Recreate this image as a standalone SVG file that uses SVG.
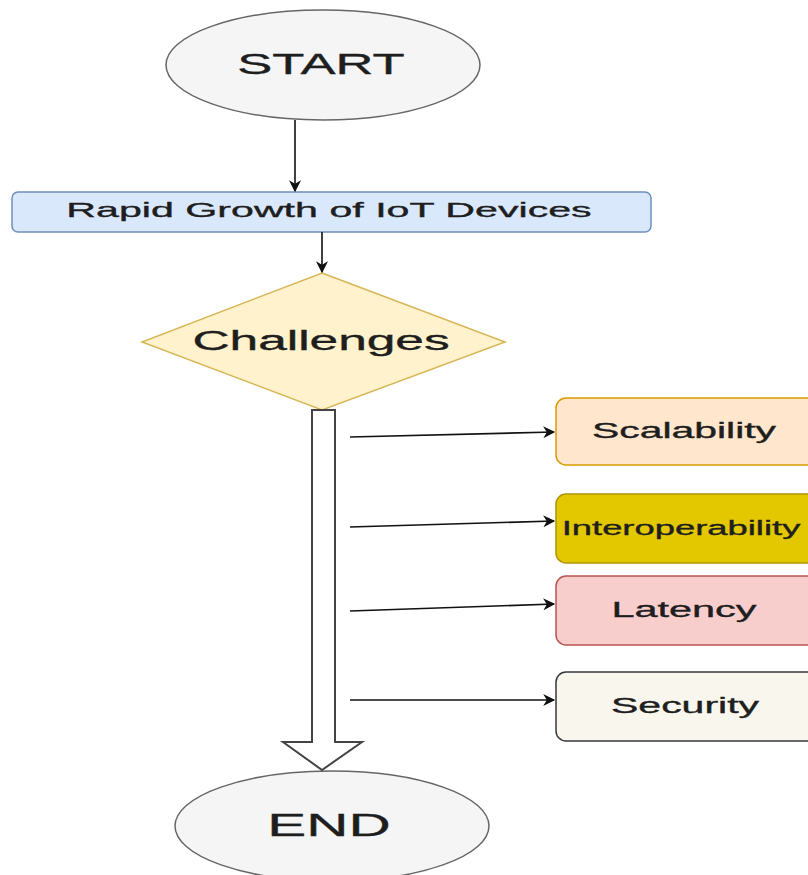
<svg xmlns="http://www.w3.org/2000/svg" width="808" height="875" viewBox="0 0 808 875">
  <style>
    text { font-family: "Liberation Sans", Arial, sans-serif; fill: #1e1e1e; stroke: #1e1e1e; stroke-width: 0.35; text-anchor: middle; }
    .term { fill: #f5f5f5; stroke: #666; stroke-width: 1.5; }
    .edge { fill: none; stroke: #111; stroke-width: 1.6; }
    .box { stroke-width: 1.5; }
  </style>
  <defs>
    <marker id="arrow" viewBox="0 0 10 10" refX="9" refY="5" markerWidth="14" markerHeight="12" markerUnits="userSpaceOnUse" orient="auto">
      <path d="M0,0 L10,5 L0,10 L3,5 Z" fill="#111"/>
    </marker>
  </defs>

  <g id="start">
    <ellipse class="term" cx="323" cy="65" rx="157" ry="55"/>
    <text transform="translate(321,74) scale(1.8,1)" font-size="29" textLength="93" lengthAdjust="spacingAndGlyphs">START</text>
  </g>

  <g id="rapid-growth">
    <rect class="box" x="12" y="192" width="639" height="40" rx="6" fill="#dae8fc" stroke="#6c8ebf"/>
    <text transform="translate(329,217) scale(1.85,1)" font-size="21" textLength="284" lengthAdjust="spacingAndGlyphs">Rapid Growth of IoT Devices</text>
  </g>

  <g id="challenges">
    <polygon points="322,273 505,342 322,410 142,342" fill="#fff2cc" stroke="#d6b656" stroke-width="1.5"/>
    <text transform="translate(321,350) scale(1.85,1)" font-size="27" textLength="139" lengthAdjust="spacingAndGlyphs">Challenges</text>
  </g>

  <g id="scalability">
    <rect class="box" x="556" y="398" width="262" height="67" rx="10" fill="#ffe6cc" stroke="#d79b00"/>
    <text transform="translate(684,438) scale(1.85,1)" font-size="22" textLength="99.5" lengthAdjust="spacingAndGlyphs">Scalability</text>
  </g>

  <g id="interoperability">
    <rect class="box" x="556" y="494" width="262" height="69" rx="10" fill="#e3c800" stroke="#b09500"/>
    <text transform="translate(681,535) scale(1.85,1)" font-size="20" textLength="129" lengthAdjust="spacingAndGlyphs">Interoperability</text>
  </g>

  <g id="latency">
    <rect class="box" x="556" y="576" width="262" height="69" rx="10" fill="#f8cecc" stroke="#b85450"/>
    <text transform="translate(684,617) scale(1.85,1)" font-size="22" textLength="78.4" lengthAdjust="spacingAndGlyphs">Latency</text>
  </g>

  <g id="security">
    <rect class="box" x="556" y="672" width="262" height="69" rx="10" fill="#f9f7ed" stroke="#36393d"/>
    <text transform="translate(685,713) scale(1.85,1)" font-size="22" textLength="80" lengthAdjust="spacingAndGlyphs">Security</text>
  </g>

  <g id="end">
    <ellipse class="term" cx="332" cy="826" rx="157" ry="55"/>
    <text transform="translate(329,836) scale(1.8,1)" font-size="32" textLength="68.5" lengthAdjust="spacingAndGlyphs">END</text>
  </g>

  <g id="connectors">
    <line class="edge" x1="295" y1="120" x2="295" y2="191" marker-end="url(#arrow)"/>
    <line class="edge" x1="322" y1="232" x2="322" y2="272" marker-end="url(#arrow)"/>
    <polygon points="312,410 335,410 335,742 362,742 322,770 283,742 312,742" fill="#fff" stroke="#444" stroke-width="2"/>
    <line class="edge" x1="350" y1="437" x2="554" y2="432" marker-end="url(#arrow)"/>
    <line class="edge" x1="350" y1="527" x2="554" y2="521" marker-end="url(#arrow)"/>
    <line class="edge" x1="350" y1="611" x2="554" y2="604" marker-end="url(#arrow)"/>
    <line class="edge" x1="350" y1="700" x2="554" y2="700" marker-end="url(#arrow)"/>
  </g>
</svg>
